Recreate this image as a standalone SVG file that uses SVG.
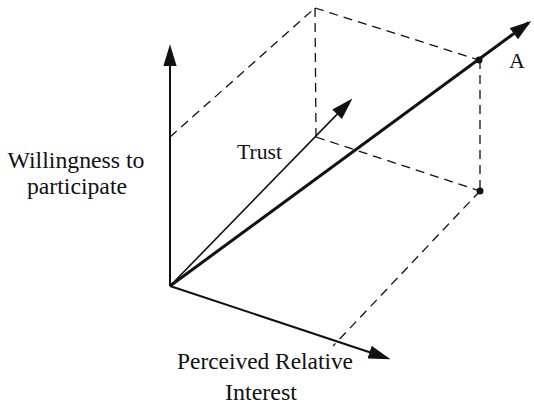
<svg xmlns="http://www.w3.org/2000/svg" width="534" height="407" viewBox="0 0 534 407">
<style>
.ax{stroke:#111;fill:none;stroke-linecap:butt}
.dash{stroke:#111;stroke-width:1.3;fill:none;stroke-dasharray:9 6}
.lbl{font-family:"Liberation Serif","Times New Roman",serif;fill:#111}
</style>
<defs>
<marker id="arr" markerUnits="userSpaceOnUse" markerWidth="22" markerHeight="14" viewBox="0 0 18 11" refX="15" refY="5.5" orient="auto">
<path d="M0,0 L18,5.5 L0,11 z" fill="#111"/>
</marker>
<marker id="arrBig" markerUnits="userSpaceOnUse" markerWidth="22" markerHeight="14" viewBox="0 0 20 13" refX="17" refY="6.5" orient="auto">
<path d="M0,0 L20,6.5 L0,13 z" fill="#111"/>
</marker>
</defs>
<rect width="534" height="407" fill="#fff"/>
<g id="connectors">
<line class="dash" x1="170" y1="137" x2="315" y2="8"/>
<line class="dash" x1="315" y1="8" x2="316" y2="137"/>
<line class="dash" x1="315" y1="8" x2="479" y2="60"/>
<line class="dash" x1="316" y1="137" x2="480" y2="191"/>
<line class="dash" x1="480" y1="60" x2="480" y2="191"/>
<line class="dash" x1="480" y1="191" x2="333" y2="346"/>
</g>
<g id="axis-willingness">
<line class="ax" stroke-width="2" x1="170" y1="286" x2="170" y2="48" marker-end="url(#arr)"/>
<text class="lbl" font-size="24" x="76" y="168" text-anchor="middle" textLength="137" lengthAdjust="spacingAndGlyphs">Willingness to</text>
<text class="lbl" font-size="24" x="77" y="194" text-anchor="middle" textLength="100" lengthAdjust="spacingAndGlyphs">participate</text>
</g>
<g id="axis-trust">
<line class="ax" stroke-width="1.6" x1="170" y1="286" x2="349.9" y2="101.1" marker-end="url(#arr)"/>
<text class="lbl" font-size="22" x="237" y="159" textLength="45" lengthAdjust="spacingAndGlyphs">Trust</text>
</g>
<g id="axis-interest">
<line class="ax" stroke-width="2" x1="170" y1="286" x2="387" y2="358" marker-end="url(#arr)"/>
<text class="lbl" font-size="24" x="265" y="369" text-anchor="middle" textLength="176" lengthAdjust="spacingAndGlyphs">Perceived Relative</text>
<text class="lbl" font-size="24" x="261" y="400" text-anchor="middle" textLength="72" lengthAdjust="spacingAndGlyphs">Interest</text>
</g>
<g id="vector-A">
<line class="ax" stroke-width="3" x1="170" y1="286" x2="528.6" y2="22.8" marker-end="url(#arrBig)"/>
<circle cx="479" cy="60" r="3.5" fill="#111"/>
<circle cx="480" cy="191" r="3.5" fill="#111"/>
<text class="lbl" font-size="22" x="509" y="68">A</text>
</g>
</svg>
